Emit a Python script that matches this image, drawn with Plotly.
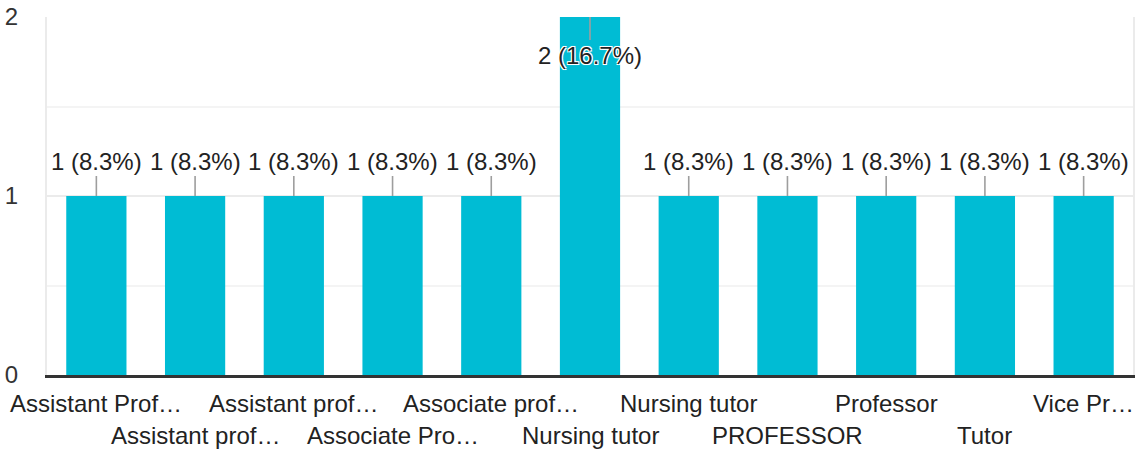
import plotly.graph_objects as go

# Response categories (labels as shown, already shortened) and their counts
categories = [
    "Assistant Prof…", "Assistant prof…", "Assistant prof…", "Associate Pro…",
    "Associate prof…", "Nursing tutor", "Nursing tutor", "PROFESSOR",
    "Professor", "Tutor", "Vice Pr…",
]
counts = [1, 1, 1, 1, 1, 2, 1, 1, 1, 1, 1]
y_ticks = [0, 1, 2]

FONT = "Liberation Sans, Arial, Helvetica, sans-serif"
BAR = "#00bcd4"
total = sum(counts)
positions = list(range(len(categories)))

fig = go.Figure(
    go.Bar(
        x=positions,
        y=counts,
        marker=dict(color=BAR, line=dict(width=0)),
        hoverinfo="skip",
    )
)

annotations = []
for i, (cat, n) in enumerate(zip(categories, counts)):
    label = f"{n} ({n / total * 100:.1f}%)"
    inside = n == max(counts)
    annotations.append(
        dict(
            x=i, y=n, xref="x", yref="y",
            text=label,
            showarrow=True, arrowhead=0, arrowwidth=1.6, arrowcolor="#9e9e9e",
            ax=0, ay=38 if inside else -35, standoff=0,
            font=dict(
                family=FONT, size=24, color="#222222",
                shadow="-1px -1px 0 #fff, 1px -1px 0 #fff, -1px 1px 0 #fff, 1px 1px 0 #fff, 0 0 2px #fff" if inside else "none",
            ),
        )
    )
    # category labels alternate between two rows
    annotations.append(
        dict(
            x=i, y=0, xref="x", yref="paper",
            text=cat, showarrow=False,
            xanchor="center", yanchor="middle",
            yshift=-28 if i % 2 == 0 else -60,
            font=dict(family=FONT, size=24, color="#222222"),
        )
    )

fig.update_layout(
    width=1140, height=450,
    margin=dict(l=47, r=7, t=17, b=75, autoexpand=False),
    paper_bgcolor="white", plot_bgcolor="white",
    bargap=0.39,
    showlegend=False,
    font=dict(family=FONT, size=24, color="#333333"),
    annotations=annotations,
    xaxis=dict(
        range=[-0.5, len(categories) - 0.5],
        showticklabels=False, showgrid=False, zeroline=False,
        showline=True, linecolor="#333333", linewidth=3,
        mirror=False, fixedrange=True, automargin=False,
    ),
    yaxis=dict(
        range=[0, 2], tickvals=y_ticks, ticktext=[str(v) for v in y_ticks],
        ticks="outside", ticklen=22, tickcolor="rgba(0,0,0,0)",
        tickfont=dict(family=FONT, size=24, color="#333333"),
        showgrid=True, gridcolor="#ebebeb", gridwidth=1.5,
        minor=dict(dtick=0.5, showgrid=True, gridcolor="#f4f4f4", gridwidth=1.5),
        zeroline=False,
        showline=True, linecolor="#ebebeb", linewidth=2, mirror=True,
        fixedrange=True, automargin=False,
    ),
)

fig.write_html("out.html")
